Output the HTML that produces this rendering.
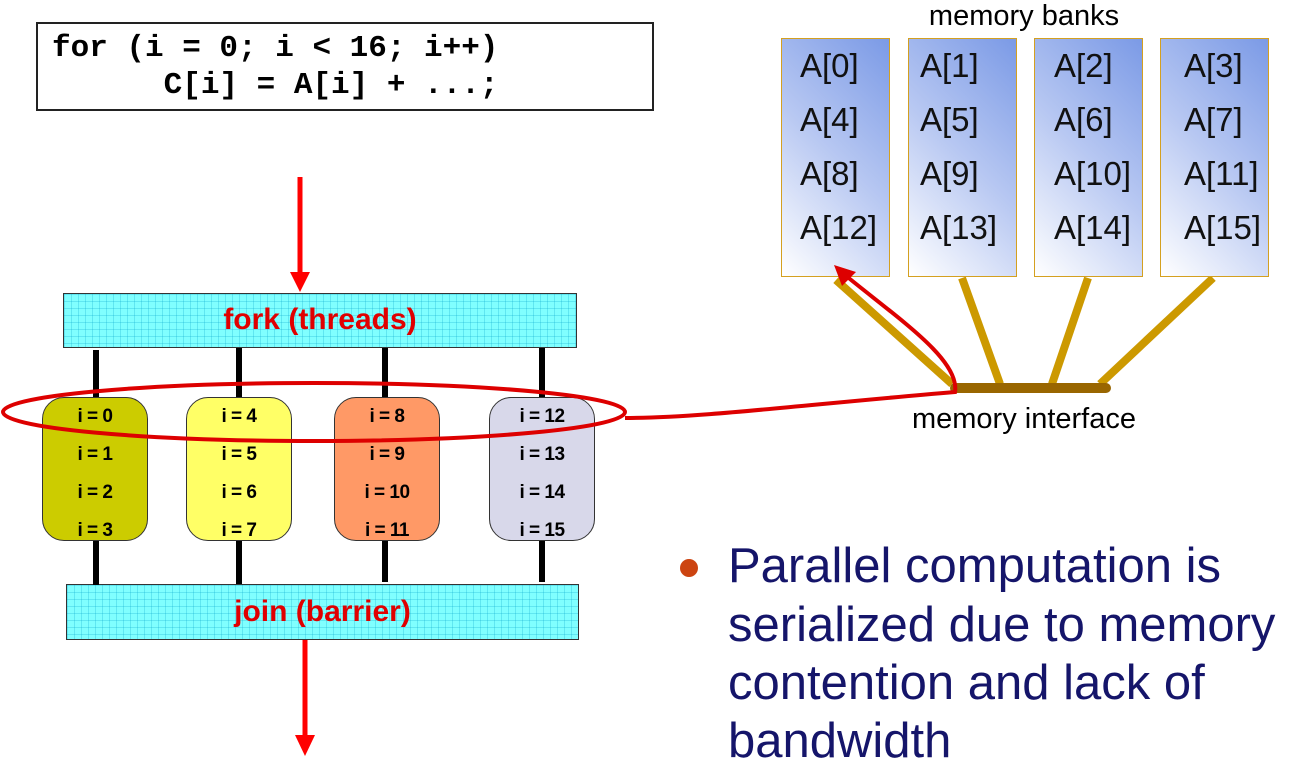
<!DOCTYPE html>
<html><head><meta charset="utf-8"><style>
body{margin:0;width:1292px;height:768px;background:#fff;position:relative;overflow:hidden;font-family:"Liberation Sans",sans-serif}
.grid{position:absolute;background-color:#80ffff;background-image:linear-gradient(rgba(0,160,200,.25) 1px,transparent 1px),linear-gradient(90deg,rgba(0,160,200,.25) 1px,transparent 1px);background-size:7px 7px;border:1.5px solid #333;box-sizing:border-box;color:#e00000;font-weight:bold;font-size:30px;text-align:center}
.th{position:absolute;top:397px;width:106px;height:144px;border:1.5px solid #333;border-radius:22px;box-sizing:border-box;font-weight:bold;font-size:19px;letter-spacing:-0.5px;text-align:center}
.th div{height:38px;line-height:38px}
.bank{position:absolute;top:38px;width:109px;height:239px;border:1.5px solid #d4a020;box-sizing:border-box;background:linear-gradient(225deg,#7b9ae6 0%,#b8c8f2 50%,#fff 100%);font-size:33px;color:#111}
.bank div{height:54px;line-height:54px}
.bl{position:absolute;left:728px;font-size:49px;color:#15156a;white-space:nowrap}
</style></head><body>
<div style="position:absolute;left:36px;top:22px;width:618px;height:89px;border:2px solid #222;box-sizing:border-box;font-family:'Liberation Mono',monospace;font-weight:bold;font-size:31px;line-height:37px;padding:6px 0 0 14px;white-space:pre">for (i = 0; i &lt; 16; i++)
      C[i] = A[i] + ...;</div>
<div class="grid" style="left:63px;top:293px;width:514px;height:55px;line-height:52px">fork (threads)</div>
<div class="grid" style="left:66px;top:584px;width:513px;height:56px;line-height:54px">join (barrier)</div>
<svg width="1292" height="768" style="position:absolute;left:0;top:0">
<g stroke="#000" stroke-width="6">
<line x1="96" y1="350" x2="96" y2="585"/><line x1="239" y1="348" x2="239" y2="584"/><line x1="385" y1="348" x2="385" y2="582"/><line x1="542" y1="348" x2="542" y2="582"/></g>
<line x1="300" y1="177" x2="300" y2="275" stroke="#f00" stroke-width="5"/><polygon points="290,272 310,272 300,292" fill="#f00"/>
<line x1="305" y1="640" x2="305" y2="738" stroke="#f00" stroke-width="5"/><polygon points="295,735 315,735 305,756" fill="#f00"/>
<g stroke="#cc9900" stroke-width="8"><line x1="836" y1="280" x2="952" y2="384"/><line x1="962" y1="278" x2="1000" y2="384"/><line x1="1088" y1="278" x2="1052" y2="384"/><line x1="1213" y1="278" x2="1100" y2="384"/></g>
<line x1="955" y1="388" x2="1106" y2="388" stroke="#996600" stroke-width="10" stroke-linecap="round"/>
</svg>
<div class="th" style="left:42px;background:#cccc00"><div>i = 0</div><div>i = 1</div><div>i = 2</div><div>i = 3</div></div>
<div class="th" style="left:186px;background:#ffff66"><div>i = 4</div><div>i = 5</div><div>i = 6</div><div>i = 7</div></div>
<div class="th" style="left:334px;background:#ff9966"><div>i = 8</div><div>i = 9</div><div>i = 10</div><div>i = 11</div></div>
<div class="th" style="left:489px;background:#d8d8ea"><div>i = 12</div><div>i = 13</div><div>i = 14</div><div>i = 15</div></div>
<div style="position:absolute;left:874px;top:0px;width:300px;text-align:center;font-size:29px">memory banks</div>
<div class="bank" style="left:781px;padding-left:18px"><div>A[0]</div><div>A[4]</div><div>A[8]</div><div>A[12]</div></div>
<div class="bank" style="left:908px;padding-left:11px"><div>A[1]</div><div>A[5]</div><div>A[9]</div><div>A[13]</div></div>
<div class="bank" style="left:1034px;padding-left:19px"><div>A[2]</div><div>A[6]</div><div>A[10]</div><div>A[14]</div></div>
<div class="bank" style="left:1160px;padding-left:23px"><div>A[3]</div><div>A[7]</div><div>A[11]</div><div>A[15]</div></div>
<div style="position:absolute;left:874px;top:403px;width:300px;text-align:center;font-size:29px">memory interface</div>
<svg width="1292" height="768" style="position:absolute;left:0;top:0">
<g fill="none" stroke="#d00" stroke-width="4">
<ellipse cx="314" cy="412" rx="311" ry="29"/>
<path d="M625,418 C700,418 800,405 955,392 C960,360 900,320 845,275"/>
</g>
<polygon points="834,265 856,272 842,286" fill="#d00"/>
</svg>
<div style="position:absolute;left:680px;top:559px;width:18px;height:18px;border-radius:50%;background:#cc4411"></div>
<div class="bl" style="top:538px">Parallel computation is</div>
<div class="bl" style="top:597px">serialized due to memory</div>
<div class="bl" style="top:655px">contention and lack of</div>
<div class="bl" style="top:713px">bandwidth</div>
</body></html>
